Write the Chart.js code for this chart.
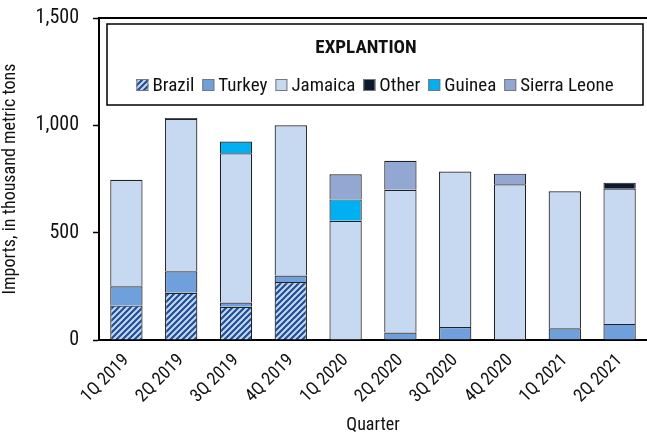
<!DOCTYPE html>
<html>
<head>
<meta charset="utf-8">
<script src="https://cdn.jsdelivr.net/npm/chart.js@4/dist/chart.umd.min.js"></script>
<style>
  html, body { margin: 0; padding: 0; background: #fff; }
  #wrap { width: 647px; height: 436px; }
</style>
</head>
<body>
<div id="wrap"><canvas id="chart" width="647" height="436"></canvas></div>
<script>
const quarters = ["1Q 2019", "2Q 2019", "3Q 2019", "4Q 2019", "1Q 2020", "2Q 2020", "3Q 2020", "4Q 2020", "1Q 2021", "2Q 2021"]
const brazil = [160, 220, 155, 270, 0, 0, 0, 0, 0, 0]
const turkey = [90, 100, 20, 30, 0, 35, 60, 0, 55, 75]
const jamaica = [496, 710, 695, 700, 555, 665, 725, 725, 638, 630]
const other = [0, 4, 0, 0, 0, 0, 0, 0, 0, 28]
const guinea = [0, 0, 55, 0, 100, 0, 0, 0, 0, 0]
const sierraLeone = [0, 0, 0, 0, 117, 135, 0, 50, 0, 0]
const yTicks = [0, 500, 1000, 1500]

const FONT = "'Roboto Condensed', 'Liberation Sans', sans-serif"

function stripePattern() {
  const c = document.createElement("canvas")
  c.width = 6
  c.height = 6
  const g = c.getContext("2d")
  g.fillStyle = "#c6d9f1"
  g.fillRect(0, 0, 6, 6)
  g.strokeStyle = "#1f4e96"
  g.lineWidth = 2.2
  g.beginPath()
  for (let k = -2; k <= 2; k++) {
    g.moveTo(k * 6 - 1, 7)
    g.lineTo(k * 6 + 7, -1)
  }
  g.stroke()
  return g.createPattern(c, "repeat")
}

const ctx = document.getElementById("chart").getContext("2d")
const brazilFill = stripePattern()

const series = [
  { label: "Brazil", data: brazil, backgroundColor: brazilFill },
  { label: "Turkey", data: turkey, backgroundColor: "#6fa0db" },
  { label: "Jamaica", data: jamaica, backgroundColor: "#c6d9f1" },
  { label: "Other", data: other, backgroundColor: "#0c1a30" },
  { label: "Guinea", data: guinea, backgroundColor: "#00b0f0" },
  { label: "Sierra Leone", data: sierraLeone, backgroundColor: "#92a7d2" },
]

// legend box drawn inside the plot, plus the top frame line
const boxLegend = {
  id: "boxLegend",
  afterDraw(chart) {
    const c = chart.ctx
    const area = chart.chartArea
    c.save()
    c.strokeStyle = "#000"
    c.lineWidth = 2
    c.beginPath()
    c.moveTo(area.left, area.top)
    c.lineTo(chart.width, area.top)
    c.stroke()

    const bx = 107, by = 24, bw = 536, bh = 81
    c.fillStyle = "#fff"
    c.fillRect(bx, by, bw, bh)
    c.lineWidth = 1.5
    c.strokeRect(bx, by, bw, bh)

    c.fillStyle = "#111"
    c.font = "bold 19px " + FONT
    c.textAlign = "center"
    c.textBaseline = "middle"
    c.fillText("EXPLANTION", 366, 48)

    c.font = "19px " + FONT
    c.textAlign = "left"
    const sw = 12, gap = 4, itemGap = 8
    let total = 0
    const widths = chart.data.datasets.map(ds => c.measureText(ds.label).width)
    widths.forEach(w => { total += sw + gap + w })
    total += itemGap * (widths.length - 1)
    let x = bx + bw / 2 - total / 2
    const y = 85
    chart.data.datasets.forEach((ds, i) => {
      c.fillStyle = ds.backgroundColor
      c.fillRect(x, y - sw / 2, sw, sw)
      c.strokeStyle = "#777"
      c.lineWidth = 1
      c.strokeRect(x + 0.5, y - sw / 2 + 0.5, sw - 1, sw - 1)
      c.fillStyle = "#111"
      c.fillText(ds.label, x + sw + gap, y + 1)
      x += sw + gap + widths[i] + itemGap
    })
    c.restore()
  },
}

new Chart(ctx, {
  type: "bar",
  data: {
    labels: quarters,
    datasets: series.map(s => ({
      ...s,
      borderColor: "#222",
      borderWidth: 1.2,
      barPercentage: 0.59,
      categoryPercentage: 1,
    })),
  },
  options: {
    responsive: false,
    animation: false,
    layout: { padding: { top: 18, right: -3, left: 0, bottom: 0 } },
    plugins: {
      legend: { display: false },
      tooltip: { enabled: false },
    },
    scales: {
      x: {
        stacked: true,
        grid: { display: false },
        border: { color: "#000", width: 2 },
        ticks: {
          color: "#111",
          font: { family: FONT, size: 18 },
          maxRotation: 45,
          minRotation: 45,
          padding: 2,
        },
        title: {
          display: true,
          text: "Quarter",
          color: "#111",
          font: { family: FONT, size: 18 },
          padding: { top: 0, bottom: 0 },
        },
        afterFit(scale) { scale.height = 96 },
      },
      y: {
        stacked: true,
        min: 0,
        max: 1500,
        afterBuildTicks(scale) { scale.ticks = yTicks.map(v => ({ value: v })) },
        grid: {
          drawOnChartArea: false,
          drawTicks: true,
          tickLength: 6,
          color: "#000",
          tickWidth: 1.5,
        },
        border: { color: "#000", width: 2 },
        ticks: {
          color: "#111",
          font: { family: FONT, size: 20 },
          padding: 14,
          callback: v => v.toLocaleString("en-US"),
        },
        title: {
          display: true,
          text: "Imports, in thousand metric tons",
          color: "#111",
          font: { family: FONT, size: 18 },
          padding: { top: 0, bottom: 4 },
        },
        afterFit(scale) {
          scale.width = 99
          scale.paddingTop = 0
          scale.paddingBottom = 0
        },
      },
    },
  },
  plugins: [boxLegend],
})
</script>
</body>
</html>
